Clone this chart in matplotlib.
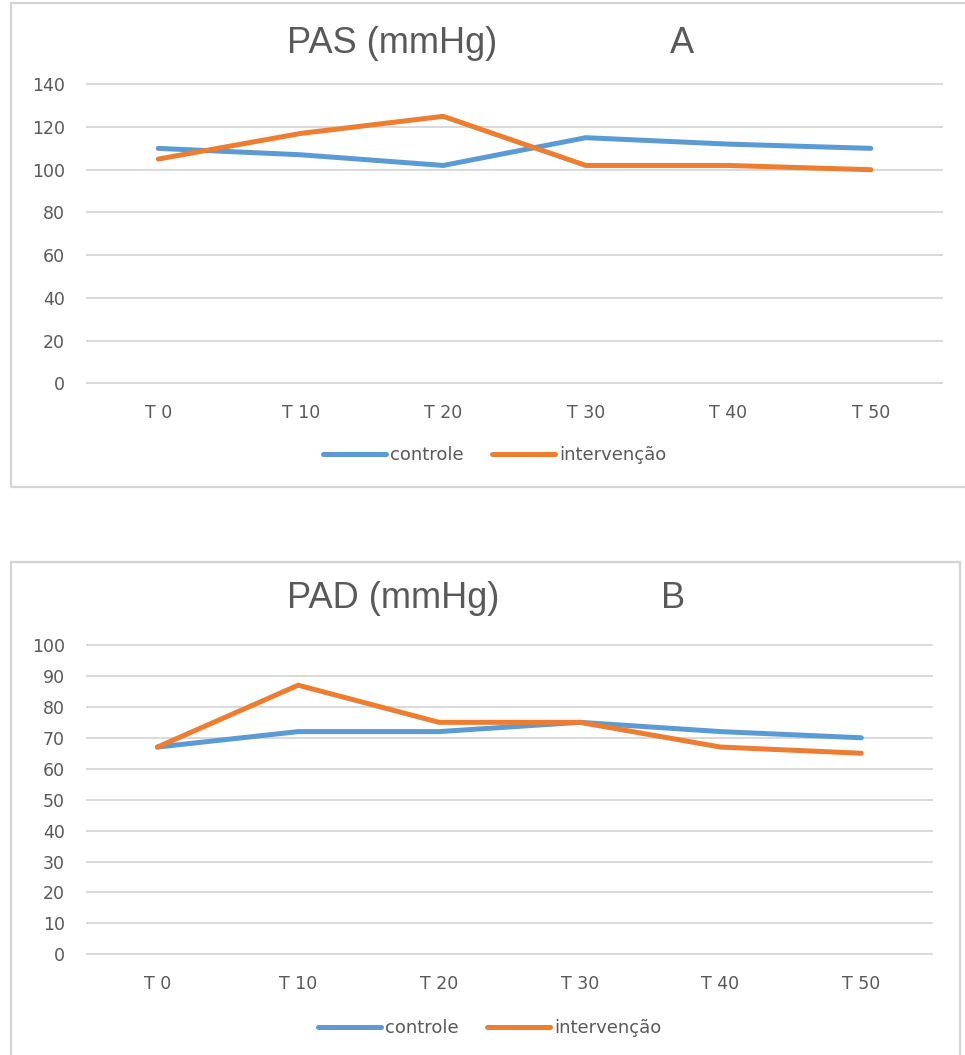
import matplotlib.pyplot as plt
from matplotlib.patches import Rectangle

# blood pressure readings over time (mmHg)
tempos = ['T 0', 'T 10', 'T 20', 'T 30', 'T 40', 'T 50']
pas_controle = [110, 107, 102, 115, 112, 110]
pas_intervencao = [105, 117, 125, 102, 102, 100]
pad_controle = [67, 72, 72, 75, 72, 70]
pad_intervencao = [67, 87, 75, 75, 67, 65]

azul = '#5B9BD5'
laranja = '#ED7D31'
cinza = '#595959'
grade = '#D9D9D9'

W, H = 965, 1055
fig = plt.figure(figsize=(W / 100, H / 100), dpi=100)


def px_box(x0, y0, x1, y1):
    # pixel box (top-left origin) -> figure fraction [left, bottom, width, height]
    return [x0 / W, 1 - y1 / H, (x1 - x0) / W, (y1 - y0) / H]


def moldura(x0, y0, x1, y1):
    b = px_box(x0, y0, x1, y1)
    fig.patches.append(Rectangle((b[0], b[1]), b[2], b[3], transform=fig.transFigure,
                                 fill=False, edgecolor='#D4D4D4', linewidth=1.6))


def grafico(box, controle, intervencao, ymax, passo, titulo, letra, tit_y, letra_x,
            leg_xy):
    ax = fig.add_axes(px_box(*box))
    x = range(len(tempos))
    ax.plot(x, controle, color=azul, lw=3.6, solid_capstyle='round',
            solid_joinstyle='round', label='controle', zorder=3)
    ax.plot(x, intervencao, color=laranja, lw=3.6, solid_capstyle='round',
            solid_joinstyle='round', label='intervenção', zorder=3)
    ax.set_xlim(-0.5, len(tempos) - 0.5)
    ax.set_ylim(0, ymax)
    ax.set_yticks(range(0, ymax + 1, passo))
    ax.set_xticks(list(x))
    ax.set_xticklabels(tempos)
    ax.grid(axis='y', color=grade, lw=1.4)
    for g in ax.get_ygridlines():
        g.set_clip_on(False)
    ax.set_axisbelow(True)
    for s in ax.spines.values():
        s.set_visible(False)
    ax.tick_params(length=0, labelsize=12.5, labelcolor=cinza)
    ax.tick_params(axis='y', pad=16)
    ax.tick_params(axis='x', pad=15)

    fig.text(287 / W, 1 - tit_y / H, titulo, fontsize=26, color=cinza,
             family='Liberation Sans', ha='left', va='baseline')
    fig.text(letra_x / W, 1 - tit_y / H, letra, fontsize=26, color=cinza,
             family='Liberation Sans', ha='center', va='baseline')

    fig.legend(*ax.get_legend_handles_labels(), loc='center',
               bbox_to_anchor=(leg_xy[0] / W, 1 - leg_xy[1] / H), ncol=2,
               frameon=False, fontsize=13, labelcolor=cinza, handlelength=3.5,
               handletextpad=0.2, columnspacing=1.6)
    return ax


moldura(11, 3, 985, 487)
moldura(11, 562, 960, 1070)

grafico((87, 84.3, 942, 383.3), pas_controle, pas_intervencao, 140, 20,
        'PAS (mmHg)', 'A', 53, 682, (494.5, 455))
grafico((87, 645, 931.7, 954.3), pad_controle, pad_intervencao, 100, 10,
        'PAD (mmHg)', 'B', 608, 673, (489.5, 1028))

fig.savefig('out.png', dpi=100)
